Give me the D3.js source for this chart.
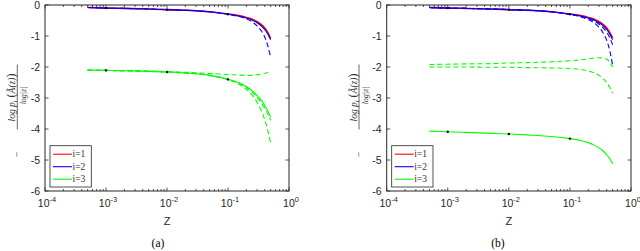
<!DOCTYPE html>
<html><head><meta charset="utf-8">
<script src="https://cdn.jsdelivr.net/npm/d3@7"></script>
<style>body{margin:0;background:#fff}svg{display:block}</style>
</head><body>
<svg id="c" width="640" height="251"></svg>
<script>
// ---- data ----
const zVals = [5e-4, 1e-3, 2e-3, 5e-3, 1e-2, 2e-2, 5e-2, 0.1, 0.15, 0.2, 0.25, 0.3, 0.35, 0.4, 0.45, 0.5];
const markerZ = [1e-3, 1e-2, 1e-1];
const yTicks = [0, -1, -2, -3, -4, -5, -6];
const xTickExps = [-4, -3, -2, -1, 0];
const legendLabels = ["i=1", "i=2", "i=3"];
const seriesColors = ["#ff0000", "#0000ff", "#00ff00"];

// panel (a)
const aRed      = [-0.08,-0.10,-0.11,-0.13,-0.15,-0.17,-0.22,-0.29,-0.34,-0.40,-0.46,-0.54,-0.63,-0.74,-0.89,-1.08];
const aBlue     = [-0.08,-0.10,-0.11,-0.13,-0.15,-0.17,-0.22,-0.30,-0.36,-0.42,-0.49,-0.57,-0.67,-0.79,-0.94,-1.12];
const aBlueD    = [-0.08,-0.10,-0.11,-0.13,-0.15,-0.17,-0.22,-0.30,-0.37,-0.45,-0.55,-0.67,-0.83,-1.03,-1.32,-1.68];
const aGreen    = [-2.10,-2.11,-2.12,-2.14,-2.16,-2.19,-2.27,-2.40,-2.51,-2.63,-2.77,-2.92,-3.07,-3.24,-3.42,-3.62];
const aGreenD1  = [-2.10,-2.11,-2.12,-2.13,-2.15,-2.17,-2.21,-2.24,-2.26,-2.27,-2.27,-2.25,-2.23,-2.20,-2.18,-2.15];
const aGreenD2  = [-2.10,-2.11,-2.12,-2.14,-2.16,-2.19,-2.27,-2.40,-2.52,-2.66,-2.82,-2.98,-3.15,-3.33,-3.52,-3.72];
const aGreenD3  = [-2.10,-2.11,-2.12,-2.14,-2.16,-2.19,-2.27,-2.40,-2.55,-2.72,-2.92,-3.14,-3.40,-3.70,-4.05,-4.45];

// panel (b)
const bRed      = [-0.08,-0.10,-0.11,-0.13,-0.15,-0.17,-0.22,-0.29,-0.34,-0.40,-0.46,-0.54,-0.63,-0.74,-0.89,-1.06];
const bBlue     = [-0.08,-0.10,-0.11,-0.13,-0.15,-0.17,-0.22,-0.30,-0.36,-0.42,-0.49,-0.57,-0.67,-0.79,-0.94,-1.12];
const bBlueD1   = [-0.08,-0.10,-0.11,-0.13,-0.15,-0.17,-0.22,-0.30,-0.37,-0.44,-0.52,-0.62,-0.74,-0.88,-1.06,-1.28];
const bBlueD2   = [-0.08,-0.10,-0.11,-0.13,-0.15,-0.17,-0.22,-0.30,-0.38,-0.47,-0.58,-0.72,-0.90,-1.14,-1.48,-1.95];
const bGreenD1  = [-1.92,-1.91,-1.90,-1.89,-1.87,-1.86,-1.83,-1.80,-1.77,-1.74,-1.71,-1.70,-1.71,-1.75,-1.84,-2.00];
const bGreenD2  = [-2.00,-2.00,-2.00,-2.01,-2.01,-2.02,-2.03,-2.05,-2.08,-2.13,-2.19,-2.27,-2.37,-2.50,-2.66,-2.85];
const bGreen    = [-4.07,-4.09,-4.11,-4.14,-4.16,-4.19,-4.24,-4.31,-4.37,-4.44,-4.52,-4.61,-4.71,-4.83,-4.96,-5.12];

const panels = [
  {x0:45, x1:289, caption:"(a)", capX:158, legX:50,
   series:[
     {v:aRed, c:0, dash:false, w:1.6},
     {v:aBlueD, c:1, dash:true},
     {v:aBlue, c:1, dash:false},
     {v:aGreenD1, c:2, dash:true},
     {v:aGreenD2, c:2, dash:true},
     {v:aGreenD3, c:2, dash:true},
     {v:aGreen, c:2, dash:false}],
   markers:[aBlue, aGreen]},
  {x0:386.7, x1:631, caption:"(b)", capX:498, legX:391.7,
   series:[
     {v:bRed, c:0, dash:false, w:1.6},
     {v:bBlueD1, c:1, dash:true},
     {v:bBlueD2, c:1, dash:true},
     {v:bBlue, c:1, dash:false},
     {v:bGreenD1, c:2, dash:true},
     {v:bGreenD2, c:2, dash:true},
     {v:bGreen, c:2, dash:false}],
   markers:[bBlue, bGreen]}
];

const svg = d3.select("#c");
const yTop = 5, yBot = 191;
const axisCol = "#262626";
const tickFont = "'Liberation Sans', Arial, sans-serif";
const serifFont = "'Liberation Serif', 'DejaVu Serif', serif";

panels.forEach(p => {
  const x = d3.scaleLog().domain([1e-4, 1]).range([p.x0, p.x1]);
  const y = d3.scaleLinear().domain([-6, 0]).range([yBot, yTop]);
  const g = svg.append("g");

  // curves
  const line = d3.line().x((d,i)=>x(zVals[i])).y(d=>y(d)).curve(d3.curveMonotoneX);
  p.series.forEach(s => {
    g.append("path").attr("d", line(s.v))
      .attr("fill","none").attr("stroke", seriesColors[s.c])
      .attr("stroke-width", s.w || 1.1)
      .attr("stroke-dasharray", s.dash ? "5,3" : null);
  });
  // markers
  p.markers.forEach(arr => {
    markerZ.forEach(z => {
      const i = zVals.indexOf(z);
      g.append("circle").attr("cx", x(z)).attr("cy", y(arr[i])).attr("r", 1.2).attr("fill","#000");
    });
  });

  // frame
  g.append("rect").attr("x", p.x0).attr("y", yTop).attr("width", p.x1-p.x0).attr("height", yBot-yTop)
    .attr("fill","none").attr("stroke", axisCol).attr("stroke-width", 1);

  // x ticks (major + minor), bottom and top, inward
  const ticks = [];
  for (let e=-4; e<0; e++) for (let m=1; m<10; m++) ticks.push({v:m*Math.pow(10,e), major:m===1});
  ticks.push({v:1, major:true});
  ticks.forEach(t => {
    const len = t.major ? 3.5 : 2;
    const xx = x(t.v);
    g.append("line").attr("x1",xx).attr("x2",xx).attr("y1",yBot).attr("y2",yBot-len).attr("stroke",axisCol).attr("stroke-width",0.8);
    g.append("line").attr("x1",xx).attr("x2",xx).attr("y1",yTop).attr("y2",yTop+len).attr("stroke",axisCol).attr("stroke-width",0.8);
  });
  // y ticks left and right
  yTicks.forEach(t => {
    const yy = y(t);
    g.append("line").attr("x1",p.x0).attr("x2",p.x0+3.5).attr("y1",yy).attr("y2",yy).attr("stroke",axisCol).attr("stroke-width",0.8);
    g.append("line").attr("x1",p.x1).attr("x2",p.x1-3.5).attr("y1",yy).attr("y2",yy).attr("stroke",axisCol).attr("stroke-width",0.8);
    g.append("text").attr("x", p.x0-5).attr("y", yy+3.5).attr("text-anchor","end")
      .attr("font-family",tickFont).attr("font-size",10.5).attr("fill",axisCol).text(t===0?"0":"-"+Math.abs(t));
  });
  // x tick labels 10^e
  xTickExps.forEach(e => {
    const xx = x(Math.pow(10,e));
    const t = g.append("text").attr("x", xx+2).attr("y", 207).attr("text-anchor","middle")
      .attr("font-family",tickFont).attr("font-size",10.5).attr("fill",axisCol);
    t.append("tspan").text("10");
    t.append("tspan").attr("dy",-5).attr("font-size",7.5).text(e===0?"0":"-"+Math.abs(e));
  });
  // x label
  g.append("text").attr("x",(p.x0+p.x1)/2).attr("y",225).attr("text-anchor","middle")
    .attr("font-family",tickFont).attr("font-size",11).attr("fill",axisCol).text("Z");
  // caption
  g.append("text").attr("x",p.capX).attr("y",247).attr("text-anchor","middle")
    .attr("font-family",serifFont).attr("font-size",11.5).attr("fill","#000").text(p.caption);

  // y label (rotated: minus + fraction)
  const lx = p.x0 - 27.7, ly = 97.5;
  const yl = g.append("g").attr("transform",`translate(${lx},${ly}) rotate(-90)`);
  yl.append("line").attr("x1",-32).attr("x2",33).attr("y1",0).attr("y2",0).attr("stroke","#444").attr("stroke-width",0.8);
  yl.append("text").attr("x",-57).attr("y",3).attr("text-anchor","middle")
    .attr("font-family",serifFont).attr("font-size",10).attr("fill","#333").text("−");
  const num = yl.append("text").attr("x",0).attr("y",-2.5).attr("text-anchor","middle")
    .attr("font-family",serifFont).attr("font-size",9.5).attr("fill","#333");
  num.append("tspan").attr("font-style","italic").text("log p");
  num.append("tspan").attr("font-style","italic").attr("font-size",6.5).attr("dy",2).text("i");
  num.append("tspan").attr("dy",-2).attr("font-size",12).text(" (");
  num.append("tspan").attr("font-style","italic").text("Ã(z)");
  num.append("tspan").attr("font-size",12).text(")");
  yl.append("text").attr("x",2).attr("y",9).attr("text-anchor","middle")
    .attr("font-family",serifFont).attr("font-size",8).attr("font-style","italic").attr("fill","#333").text("log|z|");

  // legend
  const lgx = p.legX, lgy = 145.7, lgw = 41.3, lgh = 41.3;
  g.append("rect").attr("x",lgx).attr("y",lgy).attr("width",lgw).attr("height",lgh)
    .attr("fill","#fff").attr("stroke",axisCol).attr("stroke-width",0.8);
  legendLabels.forEach((lab,i) => {
    const yy = lgy + 8.5 + i*12.5;
    g.append("line").attr("x1",lgx+3).attr("x2",lgx+22).attr("y1",yy).attr("y2",yy).attr("stroke",seriesColors[i]).attr("stroke-width",1.1);
    g.append("text").attr("x",lgx+22.5).attr("y",yy+3.2).attr("font-family",serifFont)
      .attr("font-size",9.5).attr("fill","#333").text(lab);
  });
});
</script>
</body></html>
